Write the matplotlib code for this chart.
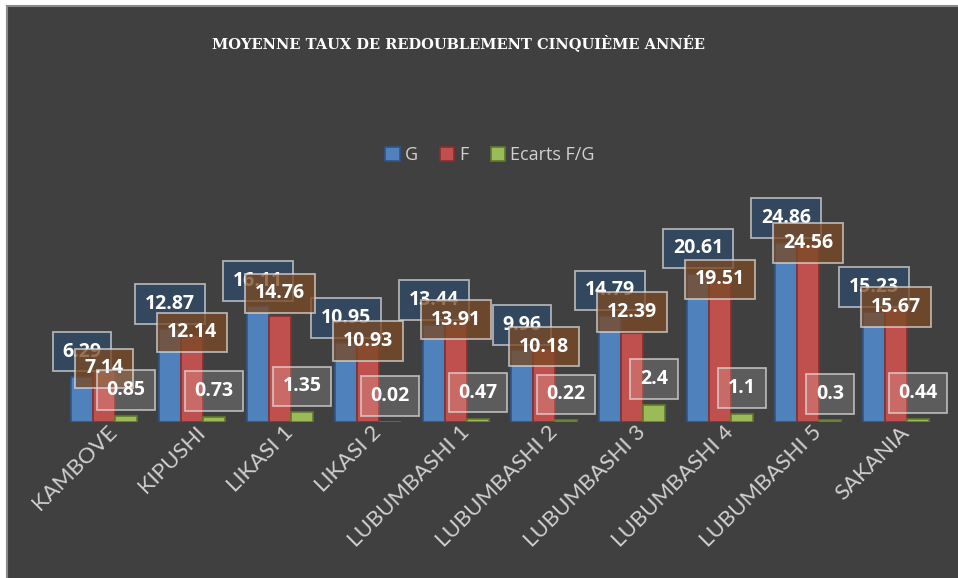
import numpy as np
import matplotlib.pyplot as plt
from matplotlib.colors import to_rgb
from matplotlib.patches import Rectangle, Patch
from matplotlib.transforms import ScaledTranslation

categories = ["KAMBOVE", "KIPUSHI", "LIKASI 1", "LIKASI 2", "LUBUMBASHI 1",
              "LUBUMBASHI 2", "LUBUMBASHI 3", "LUBUMBASHI 4", "LUBUMBASHI 5", "SAKANIA"]
g_values = [6.29, 12.87, 16.11, 10.95, 13.44, 9.96, 14.79, 20.61, 24.86, 15.23]
f_values = [7.14, 12.14, 14.76, 10.93, 13.91, 10.18, 12.39, 19.51, 24.56, 15.67]
ecarts_values = [0.85, 0.73, 1.35, 0.02, 0.47, 0.22, 2.4, 1.1, 0.3, 0.44]
series_names = ["G", "F", "Ecarts F/G"]

bg = "#404040"
bar_colors = ["#4f81bd", "#c0504d", "#9bbb59"]
edge_colors = ["#2f5586", "#8a2e2c", "#5f7a2c"]
box_colors = [("#2e4a6a", 0.72), ("#7a4a26", 0.78), ("#ffffff", 0.15)]
# vertical offset of each label above its bar (in data units)
label_offsets = [3.5, 0.3, 3.6]
# a few F labels were nudged up in the original to avoid overlap
f_nudge = [0, 0, 2.8, 0, 0, 0, 2.6, 0, 0, 0]

fig = plt.figure(figsize=(9.58, 5.78), dpi=100, facecolor="white")
fig.patches.append(Rectangle((7 / 958, -0.05), 1.1, 1.05 - 6 / 578, transform=fig.transFigure,
                             facecolor=bg, edgecolor="#8a8a8a", linewidth=1.5, zorder=-1))

ax = fig.add_axes([60 / 958, 156 / 578, 880 / 958, 216 / 578])
ax.set_facecolor(bg)
ax.patch.set_alpha(0)

x = np.arange(len(categories))
width = 0.25
all_series = [g_values, f_values, ecarts_values]
for i, vals in enumerate(all_series):
    pos = x + (i - 1) * width
    ax.bar(pos, vals, width, color=bar_colors[i], edgecolor=edge_colors[i], linewidth=1.2, zorder=2)
    for j, v in enumerate(vals):
        off = label_offsets[i] + (f_nudge[j] if i == 1 else 0)
        fc, al = box_colors[i]
        ax.text(pos[j], v + off, f"{v:g}", ha="center", va="center", color="white",
                fontsize=14, fontweight="bold", family="Open Sans", zorder=5, clip_on=False,
                bbox=dict(boxstyle="square,pad=0.5", facecolor=(*to_rgb(fc), al),
                          edgecolor=(0.88, 0.88, 0.88, 0.7), linewidth=1.3))

ax.set_xlim(-0.5, len(categories) - 0.5)
ax.set_ylim(0, 30)
ax.set_yticks([])
for s in ax.spines.values():
    s.set_visible(False)
ax.set_xticks(x)
ax.set_xticklabels(categories, rotation=45, ha="right", va="center", rotation_mode="anchor",
                   color="#d0d0d0", fontsize=16, family="Lato")
ax.tick_params(axis="x", length=0, pad=8)
shift = ScaledTranslation(10 / 100, 4 / 100, fig.dpi_scale_trans)
for lbl in ax.get_xticklabels():
    lbl.set_transform(lbl.get_transform() + shift)

fig.text(458 / 958, 1 - 43 / 578, "MOYENNE TAUX DE REDOUBLEMENT CINQUIÈME ANNÉE",
         ha="center", va="center", color="white", fontsize=10.5, fontweight="bold", family="DejaVu Serif")

handles = [Patch(facecolor=bar_colors[i], edgecolor=edge_colors[i], linewidth=1.2) for i in range(3)]
fig.legend(handles, series_names, loc="center", bbox_to_anchor=(490 / 958, 1 - 155 / 578), ncol=3,
           frameon=False, handlelength=0.8, handleheight=0.8, handletextpad=0.3,
           columnspacing=1.2, labelcolor="#d0d0d0", prop={"family": "Open Sans", "size": 13})

fig.savefig("out.png", dpi=100, facecolor=fig.get_facecolor())
